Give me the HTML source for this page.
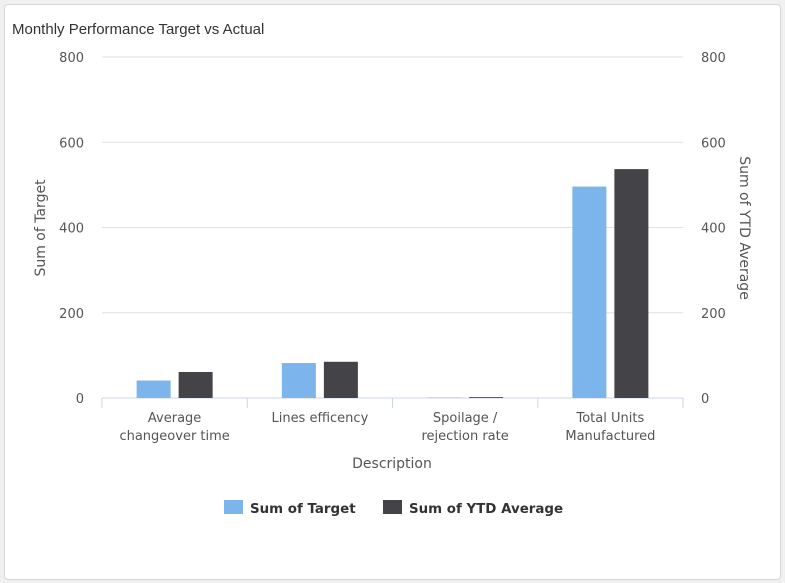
<!DOCTYPE html>
<html><head><meta charset="utf-8"><style>
body{margin:0;background:#f0f0f0;font-family:"Liberation Sans","DejaVu Sans",sans-serif;}
#card{position:absolute;left:4px;top:4px;width:775px;height:574px;background:#fff;border:1px solid #d6d6d6;border-radius:4px;}
svg text{font-family:"DejaVu Sans",sans-serif;}
svg text.title{font-family:"Liberation Sans",sans-serif;}
</style></head><body>
<div id="card"></div>
<svg id="chart" width="785" height="583" style="position:absolute;left:0;top:0"></svg>
<script>
const categories=[["Average","changeover time"],["Lines efficency"],["Spoilage /","rejection rate"],["Total Units","Manufactured"]];
const targetValues=[41,82,1,496];
const ytdValues=[61,85,2,537];
const tickValues=[0,200,400,600,800];
const svg=document.getElementById('chart');
const NS='http://www.w3.org/2000/svg';
const L=102,R=683,T=57,B=398,MAX=800;
const y=v=>B-(v/MAX)*(B-T);
const bw=(R-L)/categories.length;
const x=i=>L+bw*i+bw/2;
function el(t,a,txt){const e=document.createElementNS(NS,t);for(const k in a)e.setAttribute(k,a[k]);if(txt!==undefined)e.textContent=txt;svg.appendChild(e);return e;}
const title=el('text',{x:12,y:34,'font-size':15,fill:'#333',class:'title'},'Monthly Performance Target vs Actual');


tickValues.forEach(v=>{
 const g=el('line',{x1:L,x2:R,y1:y(v),y2:y(v),stroke:v===0?'#ccd6eb':'#e0e0e0','stroke-width':1});
 
 
 const a=el('text',{x:84,y:y(v)+5,'font-size':13,fill:'#555','text-anchor':'end'},v);
 
 
 const b=el('text',{x:701,y:y(v)+5,'font-size':13,fill:'#555'},v);
 
 
});
for(let i=0;i<=categories.length;i++){
 const t=el('line',{x1:L+bw*i,x2:L+bw*i,y1:B,y2:B+10,stroke:'#ccd6eb'});
 
 
}
categories.forEach((c,i)=>{
 c.forEach((ln,j)=>{
  const t=el('text',{x:x(i),y:422+j*18,'font-size':13,fill:'#555','text-anchor':'middle'},ln);
  
  
 });
 const r1=el('rect',{x:x(i)-38,y:y(targetValues[i]),width:34,height:B-y(targetValues[i]),fill:'#7cb5ec'});
 
 
 const r2=el('rect',{x:x(i)+4,y:y(ytdValues[i]),width:34,height:B-y(ytdValues[i]),fill:'#434348'});
 
 
});
const xt=el('text',{x:392,y:468,'font-size':14,fill:'#555','text-anchor':'middle'},'Description');


const yl=el('text',{x:45,y:228,'font-size':14,fill:'#555','text-anchor':'middle',transform:'rotate(-90 45 228)'},'Sum of Target');


const yr=el('text',{x:740,y:228,'font-size':14,fill:'#555','text-anchor':'middle',transform:'rotate(90 740 228)'},'Sum of YTD Average');


const l1=el('rect',{x:224,y:500,width:19,height:14,fill:'#7cb5ec'});


const lt1=el('text',{x:250,y:513,'font-size':13.4,'font-weight':'bold',fill:'#333'},'Sum of Target');


const l2=el('rect',{x:383,y:500,width:19,height:14,fill:'#434348'});


const lt2=el('text',{x:409,y:513,'font-size':13.4,'font-weight':'bold',fill:'#333'},'Sum of YTD Average');


</script>
</body></html>
